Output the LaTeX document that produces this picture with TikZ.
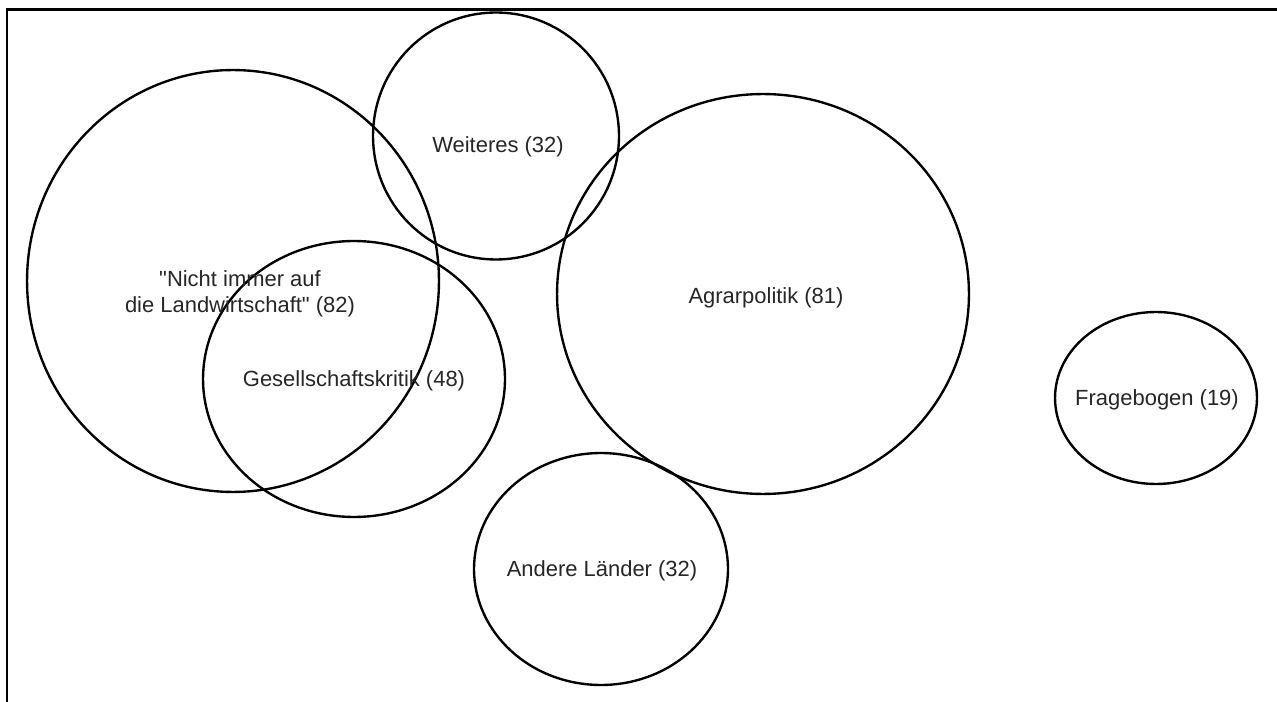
\documentclass[tikz,border=0pt]{standalone}
\usepackage{fontspec}
\setmainfont{Liberation Sans}
\usetikzlibrary{shapes.geometric}

\tikzset{
    blob/.style={draw, ellipse, line width=1.35pt, inner sep=0pt},
    lbl/.style={font=\fontsize{12.5}{14.5}\selectfont, text=black!85, align=center}
}

\begin{document}
\begin{tikzpicture}[x=0.02cm, y=-0.02cm]
    % Page
    \clip (0,0) rectangle (1277,702);
    \draw[line width=1.6pt] (7,720) -- (7,9.5) -- (1290,9.5);

    % Circles
    \node[blob, minimum width=8.24cm, minimum height=8.44cm] (nicht) at (233,281) {};
    \node[blob, minimum width=6.04cm, minimum height=5.52cm] (gesell) at (354,379) {};
    \node[blob, minimum width=4.92cm, minimum height=4.94cm] (weiteres) at (496,136) {};
    \node[blob, minimum width=8.24cm, minimum height=8.00cm] (agrar) at (763,294) {};
    \node[blob, minimum width=5.08cm, minimum height=4.64cm] (andere) at (601,569) {};
    \node[blob, minimum width=4.04cm, minimum height=3.44cm] (frage) at (1156,398) {};

    % Labels
    \node[lbl] (nichtL) at (240,294) {\textquotedbl Nicht immer auf\\die Landwirtschaft\textquotedbl{} (82)};
    \node[lbl] (gesellL) at (354,381) {Gesellschaftskritik (48)};
    \node[lbl] (weiteresL) at (498,147) {Weiteres (32)};
    \node[lbl] (agrarL) at (766,298) {Agrarpolitik (81)};
    \node[lbl] (andereL) at (602,571) {Andere Länder (32)};
    \node[lbl] (frageL) at (1157,400) {Fragebogen (19)};
\end{tikzpicture}
\end{document}
